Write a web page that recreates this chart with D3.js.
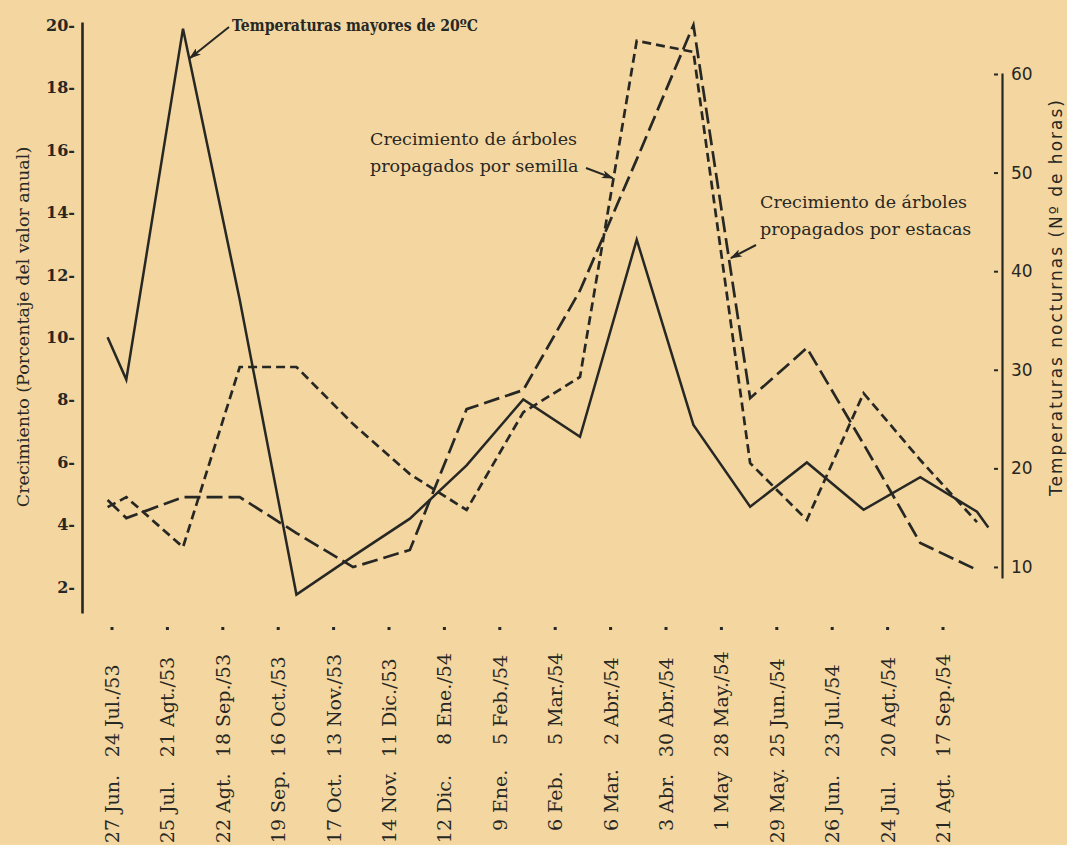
<!DOCTYPE html>
<html>
<head>
<meta charset="utf-8">
<script src="https://cdn.jsdelivr.net/npm/d3@7"></script>
<style>
  html, body { margin: 0; padding: 0; background: #f3d7a3; }
  svg { display: block; }
  .serif { font-family: "DejaVu Serif", serif; }
  .sans { font-family: "DejaVu Sans", sans-serif; }
</style>
</head>
<body>
<div class="chart"></div>
<script>
// periodos de cuatro semanas (inicio / fin)
var inicio = ["27 Jun.", "25 Jul.", "22 Agt.", "19 Sep.", "17 Oct.", "14 Nov.", "12 Dic.", "9 Ene.",
              "6 Feb.", "6 Mar.", "3 Abr.", "1 May", "29 May.", "26 Jun.", "24 Jul.", "21 Agt."];
var fin = ["24 Jul./53", "21 Agt./53", "18 Sep./53", "16 Oct./53", "13 Nov./53", "11 Dic./53", "8 Ene./54", "5 Feb./54",
           "5 Mar./54", "2 Abr./54", "30 Abr./54", "28 May./54", "25 Jun./54", "23 Jul./54", "20 Agt./54", "17 Sep./54"];

// posicion de cada punto de las curvas (indice del periodo)
var periodos = [-0.33, 0, 1, 2, 3, 4, 5, 6, 7, 8, 9, 10, 11, 12, 13, 14, 15, 15.2];

// horas nocturnas con temperaturas mayores de 20 C (eje derecho)
var temperaturas = [33.3, 29.0, 64.6, 37.1, 7.2, 11.1, 14.9, 20.3, 27.0, 23.2, 43.2, 24.4, 16.1, 20.6, 15.8, 19.1, 15.6, 14.0];
// crecimiento, % del valor anual (eje izquierdo)
var semilla = [4.56, 4.88, 3.28, 9.05, 9.05, 7.22, 5.62, 4.47, 7.6, 8.73, 19.5, 19.14, 5.97, 4.15, 8.21, 6.07, 4.08, null];
var estacas = [4.79, 4.21, 4.88, 4.88, 3.73, 2.64, 3.19, 7.7, 8.31, 11.5, 15.7, 20.0, 8.05, 9.66, 6.58, 3.41, 2.55, null];

var ticksIzq = [2, 4, 6, 8, 10, 12, 14, 16, 18, 20];
var ticksDer = [10, 20, 30, 40, 50, 60];

var ink = "#272823";
var svgWidth = 1067;
var svgHeight = 845;

var svg = d3.select(".chart")
    .append("svg")
    .attr("width", svgWidth)
    .attr("height", svgHeight);

svg.append("rect")
    .attr("width", svgWidth)
    .attr("height", svgHeight)
    .attr("fill", "#f4d6a1");

// scales
var xLine = d3.scaleLinear().domain([0, 15]).range([126.3, 977]);
var xTick = d3.scaleLinear().domain([0, 15]).range([112, 943]);
var yLeft = d3.scaleLinear().domain([1.17, 20.1]).range([613, 22]);
var yRight = d3.scaleLinear().domain([8.88, 60.1]).range([578, 73]);

// left axis
var leftAxis = d3.axisLeft(yLeft)
    .tickValues(ticksIzq)
    .tickSize(0)
    .tickPadding(7)
    .tickFormat(function(d) { return d + "-"; });

var gl = svg.append("g")
    .attr("transform", "translate(82,0)")
    .call(leftAxis);
gl.select(".domain").attr("stroke", ink).attr("stroke-width", 2.6);
gl.selectAll("text")
    .attr("class", "serif")
    .style("font-size", "16px")
    .style("font-weight", "bold")
    .attr("fill", ink);

// right axis
var rightAxis = d3.axisRight(yRight)
    .tickValues(ticksDer)
    .tickSizeInner(-8)
    .tickSizeOuter(0)
    .tickPadding(16);

var gr = svg.append("g")
    .attr("transform", "translate(1002,0)")
    .call(rightAxis);
gr.select(".domain").attr("stroke", ink).attr("stroke-width", 2.2);
gr.selectAll(".tick line").attr("x1", -4).attr("x2", -8).attr("stroke", ink).attr("stroke-width", 2);
gr.selectAll("text")
    .attr("x", 9)
    .attr("class", "sans")
    .style("font-size", "17px")
    .attr("fill", ink);

// axis titles
svg.append("text")
    .attr("class", "serif")
    .attr("transform", "translate(23,327) rotate(-90)")
    .attr("text-anchor", "middle")
    .attr("dominant-baseline", "central")
    .style("font-size", "17.5px")
    .attr("fill", ink)
    .text("Crecimiento (Porcentaje del valor anual)");

svg.append("text")
    .attr("class", "sans")
    .attr("transform", "translate(1056,297) rotate(-90)")
    .attr("text-anchor", "middle")
    .attr("dominant-baseline", "central")
    .style("font-size", "17px")
    .style("letter-spacing", "2px")
    .attr("fill", ink)
    .text("Temperaturas nocturnas (N\u00ba de horas)");

// category dots and labels
var cats = svg.append("g");
inicio.forEach(function(lab, i) {
    var x = xTick(i);
    cats.append("rect")
        .attr("x", x - 1.5).attr("y", 627)
        .attr("width", 3).attr("height", 3)
        .attr("fill", ink);

    var a = lab.indexOf(" ");
    var b = fin[i].indexOf(" ");
    var parts = [
        [lab.slice(0, a), 819, "end"],
        [lab.slice(a + 1), 813, "start"],
        [fin[i].slice(0, b), 733, "end"],
        [fin[i].slice(b + 1), 727, "start"]
    ];
    parts.forEach(function(p) {
        cats.append("text")
            .attr("class", "serif")
            .attr("transform", "translate(" + x + "," + p[1] + ") rotate(-90)")
            .attr("text-anchor", p[2])
            .attr("dominant-baseline", "central")
            .style("font-size", "19px")
            .attr("fill", ink)
            .text(p[0]);
    });
});

// curves
function serie(vals) {
    return periodos.map(function(p, i) { return { p: p, v: vals[i] }; });
}

var lineLeft = d3.line()
    .defined(function(d) { return d.v != null; })
    .x(function(d) { return xLine(d.p); })
    .y(function(d) { return yLeft(d.v); });

var lineRight = d3.line()
    .defined(function(d) { return d.v != null; })
    .x(function(d) { return xLine(d.p); })
    .y(function(d) { return yRight(d.v); });

svg.append("path")
    .datum(serie(temperaturas))
    .attr("d", lineRight)
    .attr("fill", "none")
    .attr("stroke", ink)
    .attr("stroke-width", 2.5)
    .attr("stroke-linejoin", "miter");

svg.append("path")
    .datum(serie(estacas))
    .attr("d", lineLeft)
    .attr("fill", "none")
    .attr("stroke", ink)
    .attr("stroke-width", 2.7)
    .attr("stroke-dasharray", "16,6");

svg.append("path")
    .datum(serie(semilla))
    .attr("d", lineLeft)
    .attr("fill", "none")
    .attr("stroke", ink)
    .attr("stroke-width", 2.7)
    .attr("stroke-dasharray", "9,5");

// annotations
svg.append("defs").append("marker")
    .attr("id", "head")
    .attr("viewBox", "0 0 12 8")
    .attr("refX", 11).attr("refY", 4)
    .attr("markerWidth", 12).attr("markerHeight", 8)
    .attr("markerUnits", "userSpaceOnUse")
    .attr("orient", "auto")
    .append("path")
    .attr("d", "M0,0L12,4L0,8L3,4Z")
    .attr("fill", ink);

var notas = [
    { lines: ["Temperaturas mayores de 20\u00baC"], x: 232, y: 31, size: 16.5, bold: true, len: 246,
      from: [229, 27], to: [xLine(1.12), yRight(61.6)] },
    { lines: ["Crecimiento de \u00e1rboles", "propagados por semilla"], x: 370, y: 145, size: 17.5, bold: false,
      from: [586, 168], to: [xLine(8.58), yLeft(15.1)] },
    { lines: ["Crecimiento de \u00e1rboles", "propagados por estacas"], x: 760, y: 208, size: 17.5, bold: false,
      from: [756, 245], to: [xLine(10.66), yLeft(12.54)] }
];

notas.forEach(function(n) {
    n.lines.forEach(function(t, k) {
        var txt = svg.append("text")
            .attr("class", "serif")
            .attr("x", n.x)
            .attr("y", n.y + k * 27)
            .style("font-size", n.size + "px")
            .style("font-weight", n.bold ? "bold" : "normal")
            .attr("fill", ink)
            .text(t);
        if (n.len) {
            txt.attr("textLength", n.len).attr("lengthAdjust", "spacingAndGlyphs");
        }
    });
    svg.append("line")
        .attr("x1", n.from[0]).attr("y1", n.from[1])
        .attr("x2", n.to[0]).attr("y2", n.to[1])
        .attr("stroke", ink)
        .attr("stroke-width", 2)
        .attr("marker-end", "url(#head)");
});
</script>
</body>
</html>
